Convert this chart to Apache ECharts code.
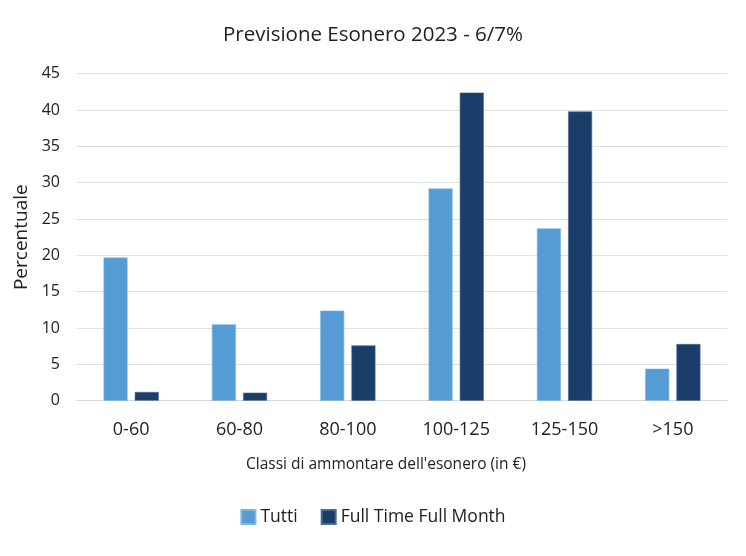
<!DOCTYPE html>
<html><head><meta charset="utf-8">
<script src="https://cdn.jsdelivr.net/npm/echarts@6/dist/echarts.min.js"></script>
<style>html,body{margin:0;padding:0;background:#fff}#c{width:746px;height:556px}</style>
</head><body><div id="c"></div>
<script>
const categories = ['0-60','60-80','80-100','100-125','125-150','>150'];
const tutti = [19.7, 10.5, 12.4, 29.2, 23.7, 4.4];
const fullTime = [1.2, 1.1, 7.6, 42.4, 39.8, 7.8];
const yTicks = [0,5,10,15,20,25,30,35,40,45];

const font = "'Open Sans', sans-serif";
const txt = '#222222';
const chart = echarts.init(document.getElementById('c'));
chart.setOption({
  animation: false,
  textStyle: {fontFamily: font},
  title: {text: 'Previsione Esonero 2023 - 6/7%', left: 'center', top: 20,
    padding: [5, 30, 5, 5],
    textStyle: {fontFamily: font, fontSize: 20.5, fontWeight: 'normal', color: txt}},
  legend: {bottom: 25, left: 'center', itemWidth: 14, itemHeight: 14, itemGap: 23,
    padding: [5, 17, 5, 5],
    icon: 'rect', textStyle: {fontFamily: font, fontSize: 17.5, color: txt}},
  grid: {left: 77, right: 19, top: 73.7, bottom: 155.3},
  xAxis: {type: 'category', data: categories,
    name: "Classi di ammontare dell'esonero (in €)", nameLocation: 'middle', nameGap: 56,
    nameTextStyle: {fontFamily: font, fontSize: 15.5, color: txt, padding: [0, 32, 0, 0]},
    axisLine: {lineStyle: {color: '#d9d9d9', width: 1}},
    axisTick: {show: false},
    axisLabel: {fontFamily: font, fontSize: 18, color: txt, margin: 20}},
  yAxis: {type: 'value', min: 0, max: 45, interval: 5,
    name: 'Percentuale', nameLocation: 'middle', nameGap: 46,
    nameTextStyle: {fontFamily: font, fontSize: 19, color: txt},
    axisLine: {show: false}, axisTick: {show: false},
    axisLabel: {fontFamily: font, fontSize: 16, color: txt, margin: 17,
      formatter: v => yTicks.includes(v) ? String(v) : ''},
    splitLine: {lineStyle: {color: '#e0e0e0', width: 1}}},
  series: [
    {name: 'Tutti', type: 'bar', data: tutti, barWidth: 24, barGap: '30%',
      itemStyle: {color: '#559BD4', borderColor: '#7fb4e2', borderWidth: 0.6}},
    {name: 'Full Time Full Month', type: 'bar', data: fullTime, barWidth: 24,
      itemStyle: {color: '#1A3D6A', borderColor: '#4a6a90', borderWidth: 0.6}}
  ]
});
</script></body></html>
